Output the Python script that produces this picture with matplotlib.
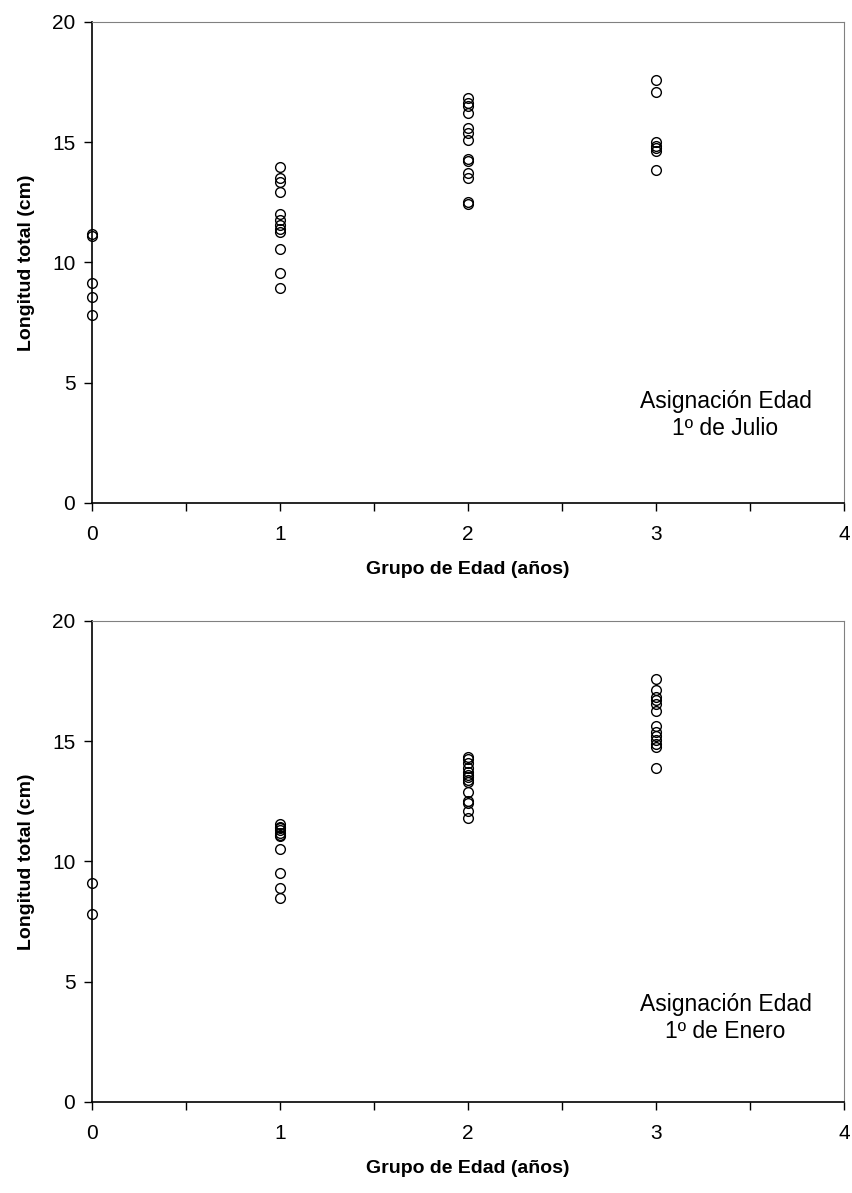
import matplotlib.pyplot as plt
import numpy as np

plt.rcParams['font.family'] = ['Liberation Sans', 'DejaVu Sans']

# Asignacion de edad 1 de julio
julio_0 = [11.2, 11.1, 9.15, 8.55, 7.8]
julio_1 = [13.95, 13.5, 13.35, 12.95, 12.0, 11.75, 11.55, 11.4, 11.25, 10.55, 9.55, 8.95]
julio_2 = [16.85, 16.65, 16.5, 16.2, 15.6, 15.4, 15.1, 14.3, 14.2, 13.7, 13.5, 12.5, 12.45]
julio_3 = [17.6, 17.1, 15.0, 14.85, 14.75, 14.65, 13.85]

# Asignacion de edad 1 de enero
enero_0 = [9.1, 7.8]
enero_1 = [11.55, 11.45, 11.4, 11.3, 11.2, 11.1, 11.05, 10.5, 9.5, 8.9, 8.5]
enero_2 = [14.35, 14.25, 14.1, 13.9, 13.7, 13.6, 13.5, 13.4, 13.3, 12.9, 12.5, 12.45, 12.1, 11.8]
enero_3 = [17.6, 17.15, 16.85, 16.7, 16.55, 16.25, 15.65, 15.4, 15.2, 15.05, 14.9, 14.75, 13.9]

paneles = [
    ([julio_0, julio_1, julio_2, julio_3], 'Asignación Edad\n1º de Julio', 3.65),
    ([enero_0, enero_1, enero_2, enero_3], 'Asignación Edad\n1º de Enero', 3.5),
]

fig = plt.figure(figsize=(8.52, 11.93), dpi=100)
posiciones = [[0.108, 0.5784, 0.8826, 0.4032], [0.108, 0.0763, 0.8826, 0.4032]]

for pos, (grupos, texto, y_texto) in zip(posiciones, paneles):
    ax = fig.add_axes(pos)
    for edad, valores in enumerate(grupos):
        ax.plot([edad] * len(valores), valores, 'o', mfc='none', mec='black',
                ms=7, mew=1.0, clip_on=False, zorder=3)
    ax.set_xlim(0, 4)
    ax.set_ylim(0, 20)
    ax.set_xticks(np.arange(0, 4.01, 0.5))
    ax.set_xticklabels(['0', '', '1', '', '2', '', '3', '', '4'])
    ax.set_yticks([0, 5, 10, 15, 20])
    ax.tick_params(direction='out', length=6, width=1, labelsize=15, pad=6)
    ax.tick_params(axis='x', pad=10)
    ax.spines['top'].set_color('#808080')
    ax.spines['right'].set_color('#808080')
    ax.spines['left'].set_linewidth(1.2)
    ax.spines['bottom'].set_linewidth(1.2)
    ax.set_xlabel('Grupo de Edad (años)', fontsize=14, fontweight='bold', labelpad=12)
    ax.set_ylabel('Longitud total (cm)', fontsize=14, fontweight='bold', labelpad=12)
    ax.text(3.37, y_texto, texto, ha='center', va='center', fontsize=16.5, linespacing=1.2)

fig.savefig('out.png', dpi=100)
